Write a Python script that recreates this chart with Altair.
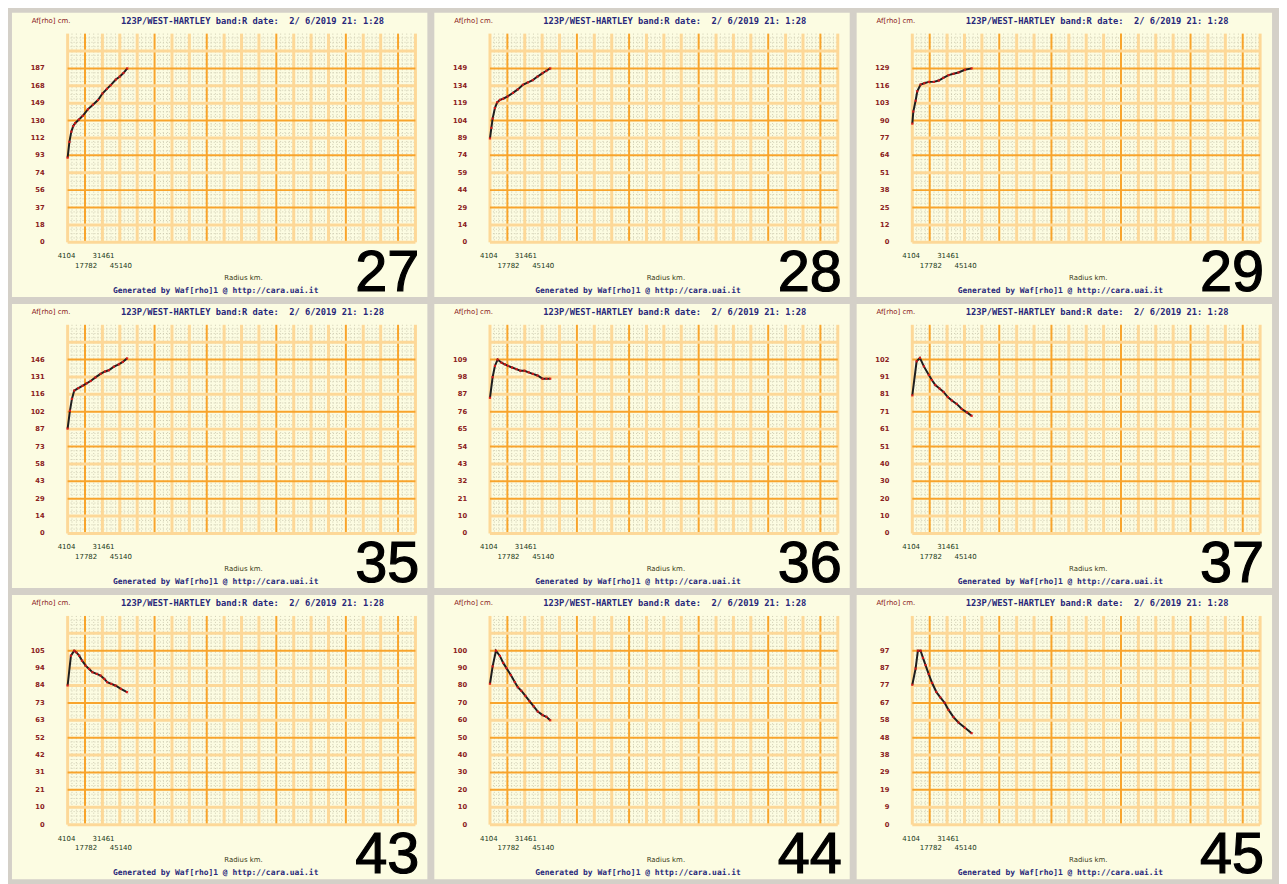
import altair as alt
import pandas as pd

# ---------------- data ----------------
PANEL_IDS = ["27", "28", "29", "35", "36", "37", "43", "44", "45"]
TITLE = "123P/WEST-HARTLEY band:R date:\u00a0 2/ 6/2019 21: 1:28"
FOOTER = "Generated by Waf[rho]1 @ http://cara.uai.it"
Y_LABEL = "Af[rho] cm."
X_LABEL = "Radius km."

X_TICKS = [4104, 17782, 31461, 45140]
X_TICK_LABELS = ["4104", "17782", "31461", "45140"]

Y_TICKS = {
    "27": [0, 18, 37, 56, 74, 93, 112, 130, 149, 168, 187],
    "28": [0, 14, 29, 44, 59, 74, 89, 104, 119, 134, 149],
    "29": [0, 12, 25, 38, 51, 64, 77, 90, 103, 116, 129],
    "35": [0, 14, 29, 43, 58, 73, 87, 102, 116, 131, 146],
    "36": [0, 10, 21, 32, 43, 54, 65, 76, 87, 98, 109],
    "37": [0, 10, 20, 30, 40, 51, 61, 71, 81, 91, 102],
    "43": [0, 10, 21, 31, 42, 52, 63, 73, 84, 94, 105],
    "44": [0, 10, 20, 30, 40, 50, 60, 70, 80, 90, 100],
    "45": [0, 9, 19, 29, 38, 48, 58, 67, 77, 87, 97],
}
Y_TOP = {"27": 187.0, "28": 149.0, "29": 129.0, "35": 146.0, "36": 109.0,
         "37": 102.0, "43": 105.0, "44": 100.0, "45": 97.0}

R_27 = [4104, 5500, 7000, 8500, 10000, 13000, 16000, 20000, 24000, 28000, 31500, 35000, 38000, 42000, 45000, 48000, 51000]
V_27 = [91, 108, 119, 125, 128, 132, 136, 143, 148, 153, 160, 165, 169, 175, 178, 182, 187]

R_28 = [4104, 5200, 6200, 8000, 9800, 12000, 14500, 18000, 22200, 26000, 30000, 34000, 37800, 41500, 45500, 48500, 51500]
V_28 = [89, 98, 106, 115, 120, 122, 123, 125, 128, 131, 135, 137, 139, 142, 145, 147, 149]

R_29 = [4104, 4900, 6700, 8000, 10600, 13500, 17100, 21000, 24900, 28500, 32600, 36500, 40400, 45500, 50800]
V_29 = [88, 97, 105, 112, 117, 118, 119, 119, 120, 122, 124, 125, 126, 128, 129]

R_35 = [4104, 5900, 7500, 9300, 12500, 15800, 19000, 22200, 26000, 30000, 33500, 36500, 40500, 44300, 47500, 50800]
V_35 = [88, 103, 113, 120, 122, 124, 126, 128, 131, 134, 136, 137, 140, 142, 144, 147]

R_36 = [4104, 6200, 8000, 10100, 13200, 15800, 18300, 21500, 24900, 28000, 31300, 34500, 37800, 41500, 45500, 48500, 51500]
V_36 = [85, 98, 105, 109, 107, 106, 105, 104, 103, 102, 102, 101, 100, 99, 97, 97, 97]

R_37 = [4104, 7500, 10100, 13200, 17100, 19500, 22200, 25500, 28700, 32000, 35200, 39000, 43000, 47000, 50800]
V_37 = [81, 101, 103, 98, 93, 90, 87, 85, 83, 80, 78, 76, 73, 71, 69]

R_43 = [4104, 6700, 9300, 11000, 13200, 15500, 18300, 21000, 23600, 27000, 30000, 33000, 35200, 38500, 41700, 46000, 50800]
V_43 = [84, 102, 105, 104, 102, 99, 96, 94, 92, 91, 90, 88, 86, 85, 84, 82, 80]

R_44 = [4104, 6200, 8800, 11900, 14500, 17100, 20500, 23600, 26000, 28700, 32000, 35200, 38500, 41700, 45500, 48500, 51500]
V_44 = [81, 91, 100, 97, 93, 90, 86, 82, 79, 77, 74, 71, 68, 65, 63, 62, 60]

R_45 = [4104, 6700, 8500, 10600, 12500, 14500, 17000, 19700, 23000, 26100, 29500, 32600, 36500, 40400, 45500, 50800]
V_45 = [78, 87, 97, 97, 93, 89, 84, 79, 74, 71, 68, 64, 60, 57, 54, 51]

SERIES = {
    "27": (R_27, V_27), "28": (R_28, V_28), "29": (R_29, V_29),
    "35": (R_35, V_35), "36": (R_36, V_36), "37": (R_37, V_37),
    "43": (R_43, V_43), "44": (R_44, V_44), "45": (R_45, V_45),
}

# ---------------- styles ----------------
PW, PH = 418, 286           # panel size
GX0, GX1 = 56, 406          # grid left/right (px inside panel)
GY0, GY1 = 231, 21          # grid bottom/top
NX, NY = 20, 12             # number of grid steps
X_STEP = (X_TICKS[-1] - X_TICKS[0]) / 3.0

DARK = "#f8a42c"
LIGHT = "#fdd898"
DOT = "#cfcdb2"
# per-line emphasis (d=dark, l=light) as seen in the reference rendering
H_STYLE = "llddldldlldl"
V_STYLE = "ldllldlldllldllldlld" + "l"


def panel(pid):
    top = Y_TOP[pid]
    ystep = top / 10.0
    xs = alt.Scale(domain=[X_TICKS[0], X_TICKS[0] + NX * X_STEP], range=[GX0, GX1], nice=False, zero=False)
    ys = alt.Scale(domain=[0, NY * ystep], range=[GY0, GY1], nice=False, zero=False)

    # minor dotted grid
    mv = pd.DataFrame({"x": [X_TICKS[0] + j * X_STEP / 4 for j in range(NX * 4 + 1) if j % 4]})
    mh = pd.DataFrame({"y": [j * ystep / 4 for j in range(NY * 4) if j % 4]})
    minor_v = alt.Chart(mv).mark_rule(color=DOT, strokeWidth=1, strokeDash=[1, 2]).encode(
        x=alt.X("x:Q", scale=xs, axis=None), y=alt.value(GY1), y2=alt.value(GY0))
    minor_h = alt.Chart(mh).mark_rule(color=DOT, strokeWidth=1, strokeDash=[1, 2]).encode(
        y=alt.Y("y:Q", scale=ys, axis=None), x=alt.value(GX0), x2=alt.value(GX1))

    # major grid
    majv = pd.DataFrame({"x": [X_TICKS[0] + k * X_STEP for k in range(NX + 1)],
                         "s": [V_STYLE[k] for k in range(NX + 1)]})
    majh = pd.DataFrame({"y": [k * ystep for k in range(NY)],
                         "s": [H_STYLE[k] for k in range(NY)]})
    cscale = alt.Scale(domain=["d", "l"], range=[DARK, LIGHT])
    wscale = alt.Scale(domain=["d", "l"], range=[2, 3])
    major_v = alt.Chart(majv).mark_rule().encode(
        x=alt.X("x:Q", scale=xs, axis=None), y=alt.value(GY1), y2=alt.value(GY0),
        color=alt.Color("s:N", scale=cscale, legend=None),
        strokeWidth=alt.StrokeWidth("s:N", scale=wscale, legend=None))
    major_h = alt.Chart(majh).mark_rule().encode(
        y=alt.Y("y:Q", scale=ys, axis=None), x=alt.value(GX0), x2=alt.value(GX1),
        color=alt.Color("s:N", scale=cscale, legend=None),
        strokeWidth=alt.StrokeWidth("s:N", scale=wscale, legend=None))

    r, v = SERIES[pid]
    d = pd.DataFrame({"r": r, "v": v})
    line = alt.Chart(d).mark_line(color="#1e1e1e", strokeWidth=2).encode(
        x=alt.X("r:Q", scale=xs, axis=None), y=alt.Y("v:Q", scale=ys, axis=None))
    pts = alt.Chart(d).mark_square(color="#e01818", size=5, opacity=0.9).encode(
        x=alt.X("r:Q", scale=xs, axis=None), y=alt.Y("v:Q", scale=ys, axis=None))

    # y tick labels
    yl = pd.DataFrame({"y": [k * ystep for k in range(11)], "t": [str(t) for t in Y_TICKS[pid]]})
    ylab = alt.Chart(yl).mark_text(align="right", baseline="middle", font="DejaVu Sans",
                                   fontSize=6.8, fontWeight="bold", color="#8a2020").encode(
        y=alt.Y("y:Q", scale=ys, axis=None), x=alt.value(33), text="t:N")

    # x tick labels (staggered in two rows)
    xl_a = pd.DataFrame({"x": X_TICKS[0::2], "t": X_TICK_LABELS[0::2]})
    xl_b = pd.DataFrame({"x": X_TICKS[1::2], "t": X_TICK_LABELS[1::2]})
    xlab_a = alt.Chart(xl_a).mark_text(align="left", baseline="middle", font="DejaVu Sans",
                                       fontSize=7, color="#203818", dx=-10).encode(
        x=alt.X("x:Q", scale=xs, axis=None), y=alt.value(245), text="t:N")
    xlab_b = alt.Chart(xl_b).mark_text(align="left", baseline="middle", font="DejaVu Sans",
                                       fontSize=7, color="#203818", dx=-10).encode(
        x=alt.X("x:Q", scale=xs, axis=None), y=alt.value(255), text="t:N")

    def stat(txt, x, y, **kw):
        return alt.Chart(pd.DataFrame({"t": [txt]})).mark_text(**kw).encode(
            x=alt.value(x), y=alt.value(y), text="t:N")

    t1 = stat(Y_LABEL, 20, 8, align="left", baseline="middle", font="DejaVu Sans",
              fontSize=7, color="#8a2020")
    t2 = stat(TITLE, 242, 8, align="center", baseline="middle", font="DejaVu Sans Mono",
              fontSize=8.8, fontWeight="bold", color="#28287a")
    t3 = stat(X_LABEL, 233, 267, align="center", baseline="middle", font="DejaVu Sans",
              fontSize=7, color="#404018")
    t4 = stat(FOOTER, 205, 280, align="center", baseline="middle", font="DejaVu Sans Mono",
              fontSize=8, fontWeight="bold", color="#28287a")
    t5 = stat(pid, 410, 280, align="right", baseline="alphabetic", font="Liberation Sans",
              fontSize=58, color="#000000", stroke="#000000", strokeWidth=1.2)

    return alt.layer(minor_v, minor_h, major_v, major_h, line, pts, ylab, xlab_a, xlab_b,
                     t1, t2, t3, t4, t5).resolve_scale(
        color="independent", strokeWidth="independent").properties(width=PW, height=PH)


chart = alt.concat(*[panel(p) for p in PANEL_IDS], columns=3, spacing=7,
                   bounds="flush").properties(
    background="#d4d0c8",
    padding={"left": 4, "top": 2, "right": 7, "bottom": 2},
).configure_view(fill="#fcfce2", stroke=None)

chart.save("out.html", embed_options={"renderer": "svg", "actions": False})
